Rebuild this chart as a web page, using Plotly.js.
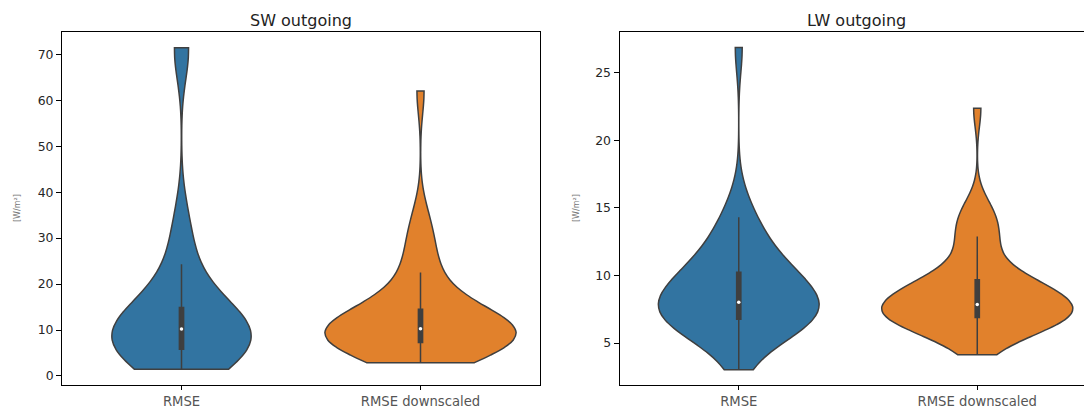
<!DOCTYPE html>
<html>
<head>
<meta charset="utf-8">
<script src="https://cdn.plot.ly/plotly-3.0.1.min.js"></script>
<style>
  html, body { margin: 0; padding: 0; background: #ffffff; }
  #chart { width: 1084px; height: 408px; }
</style>
</head>
<body>
<div id="chart"></div>
<script>
// ---- data ----
const categories = ['RMSE', 'RMSE downscaled'];
const panelTitles = ['SW outgoing', 'LW outgoing'];
const unitLabel = '[W/m\u00b2]';

// SW outgoing samples [W/m2]
const swRmse = [1.45, 2.2, 2.9, 3.6, 4.2, 4.8, 5.3, 5.8,
  6.4, 7.0, 7.6, 8.1, 8.6, 9.1, 9.7, 10.7,
  11.5, 12.2, 12.9, 13.5, 14.0, 14.5, 14.9,
  18.0, 22.0, 24.3, 29.5, 34.5, 70.6, 71.4];
const swRmseDown = [2.9, 4.6, 5.3, 5.8, 6.1, 6.4, 6.6, 6.8, 7.0, 7.2,
  7.4, 7.7, 8.0, 8.3, 8.6, 8.9, 9.2, 9.5, 9.8, 10.1,
  10.5, 10.9, 11.3, 11.7, 12.1, 12.5, 12.9, 13.3, 13.7, 14.1,
  14.9, 17.3, 19.5, 21.3, 22.5, 26.0, 28.5, 31.5, 35.0, 62.0];

// LW outgoing samples [W/m2]
const lwRmse = [3.03, 4.9, 5.4, 5.75, 6.0, 6.2, 6.35, 6.5, 6.62, 6.7,
  6.84, 7.05, 7.25, 7.4, 7.55, 7.65, 7.75, 7.85, 7.92, 7.98,
  8.08, 8.5, 8.9, 9.2, 9.45, 9.65, 9.85, 10.0, 10.1, 10.2,
  10.3, 10.9, 11.5, 12.0, 12.5, 13.0, 13.6, 14.31, 15.6, 26.88];
const lwRmseDown = [4.14, 5.2, 5.55, 5.8, 6.0, 6.15, 6.3, 6.43, 6.55, 6.65, 6.74, 6.82,
  6.96, 7.05, 7.15, 7.25, 7.33, 7.41, 7.48, 7.55, 7.62, 7.68, 7.74, 7.8,
  7.9, 8.1, 8.3, 8.5, 8.7, 8.85, 9.0, 9.15, 9.28, 9.4, 9.5, 9.6,
  9.76, 10.05, 10.4, 11.8, 12.2, 12.55, 12.88, 13.9, 14.2, 14.6, 15.2, 22.37];

const swTicks = [0, 10, 20, 30, 40, 50, 60, 70];
const lwTicks = [5, 10, 15, 20, 25];

// ---- styling ----
const BLUE = '#3274a1';
const ORANGE = '#e1812c';
const EDGE = '#3f3f3f';
const FONT = 'DejaVu Sans, Verdana, sans-serif';

function median(arr) {
  const s = arr.slice().sort((a, b) => a - b);
  const n = s.length;
  return n % 2 ? s[(n - 1) / 2] : (s[n / 2 - 1] + s[n / 2]) / 2;
}

function violin(values, cat, color, xa, ya, width, bw, boxFrac, group) {
  return {
    type: 'violin',
    x0: cat,
    y: values,
    xaxis: xa,
    yaxis: ya,
    width: width,
    scalemode: 'width',
    scalegroup: group,
    spanmode: 'hard',
    bandwidth: bw,
    fillcolor: color,
    opacity: 1,
    line: { color: EDGE, width: 1.5 },
    points: 'outliers',
    pointpos: 0,
    jitter: 0,
    marker: { opacity: 0, size: 1 },
    box: { visible: true, width: boxFrac, fillcolor: EDGE, line: { color: EDGE, width: 1.5 } },
    meanline: { visible: false },
    hoverinfo: 'skip',
    showlegend: false
  };
}

function medianDots(series, xa, ya) {
  return {
    type: 'scatter',
    mode: 'markers',
    x: categories,
    y: series.map(median),
    xaxis: xa,
    yaxis: ya,
    marker: { color: '#ffffff', size: 3.5, line: { width: 0 } },
    hoverinfo: 'skip',
    showlegend: false
  };
}

const data = [
  violin(swRmse, categories[0], BLUE, 'x', 'y', 0.58, 6.5, 0.0304, 'a'),
  violin(swRmseDown, categories[1], ORANGE, 'x', 'y', 0.8, 5.0, 0.022, 'b'),
  violin(lwRmse, categories[0], BLUE, 'x2', 'y2', 0.674, 1.85, 0.0262, 'c'),
  violin(lwRmseDown, categories[1], ORANGE, 'x2', 'y2', 0.8, 1.35, 0.022, 'd'),
  medianDots([swRmse, swRmseDown], 'x', 'y'),
  medianDots([lwRmse, lwRmseDown], 'x2', 'y2')
];

const W = 1084, H = 408;
const yDom = [(H - 385) / H, (H - 32) / H];

function xAxis(domain, range, mirror) {
  return {
    domain: domain,
    type: 'category',
    categoryorder: 'array',
    categoryarray: categories,
    range: range,
    showline: true, linecolor: '#000000', linewidth: 1, mirror: mirror,
    ticks: 'outside', ticklen: 4, tickwidth: 1, tickcolor: '#000000',
    tickfont: { family: FONT, size: 13.2, color: '#555555' },
    showgrid: false, zeroline: false, fixedrange: true
  };
}
function yAxis(range, ticks, mirror, anchor) {
  return {
    domain: yDom,
    anchor: anchor,
    range: range,
    tickmode: 'array',
    tickvals: ticks,
    ticktext: ticks.map(String),
    showline: true, linecolor: '#000000', linewidth: 1, mirror: mirror,
    ticks: 'outside', ticklen: 5, tickwidth: 1, tickcolor: '#000000',
    tickfont: { family: FONT, size: 12.4, color: '#262626' },
    showgrid: false, zeroline: false, fixedrange: true
  };
}

const layout = {
  width: W, height: H,
  margin: { l: 0, r: 0, t: 0, b: 0 },
  paper_bgcolor: '#ffffff',
  plot_bgcolor: '#ffffff',
  font: { family: FONT, color: '#262626' },
  showlegend: false,
  violinmode: 'overlay',
  xaxis: Object.assign(xAxis([62 / W, 540 / W], [-0.5, 1.5], true), { anchor: 'y' }),
  yaxis: yAxis([-1.96, 74.85], swTicks, true, 'x'),
  xaxis2: Object.assign(xAxis([619.5 / W, 1], [-0.5, 1.5 - (1096.5 - W) / 238.3], true), { anchor: 'y2' }),
  yaxis2: yAxis([1.9, 28.02], lwTicks, false, 'x2'),
  annotations: [
    { text: panelTitles[0], xref: 'paper', yref: 'paper', x: 301 / W, y: (H - 20) / H,
      xanchor: 'center', yanchor: 'middle', showarrow: false,
      font: { family: FONT, size: 16, color: '#222222' } },
    { text: panelTitles[1], xref: 'paper', yref: 'paper', x: 856 / W, y: (H - 20) / H,
      xanchor: 'center', yanchor: 'middle', showarrow: false,
      font: { family: FONT, size: 16, color: '#222222' } },
    { text: unitLabel, xref: 'paper', yref: 'paper', x: 17 / W, y: (H - 208) / H,
      xanchor: 'center', yanchor: 'middle', textangle: -90, showarrow: false,
      font: { family: FONT, size: 8, color: '#777777' } },
    { text: unitLabel, xref: 'paper', yref: 'paper', x: 576 / W, y: (H - 208) / H,
      xanchor: 'center', yanchor: 'middle', textangle: -90, showarrow: false,
      font: { family: FONT, size: 8, color: '#777777' } }
  ]
};

Plotly.newPlot('chart', data, layout, { staticPlot: true, displayModeBar: false });
</script>
</body>
</html>
